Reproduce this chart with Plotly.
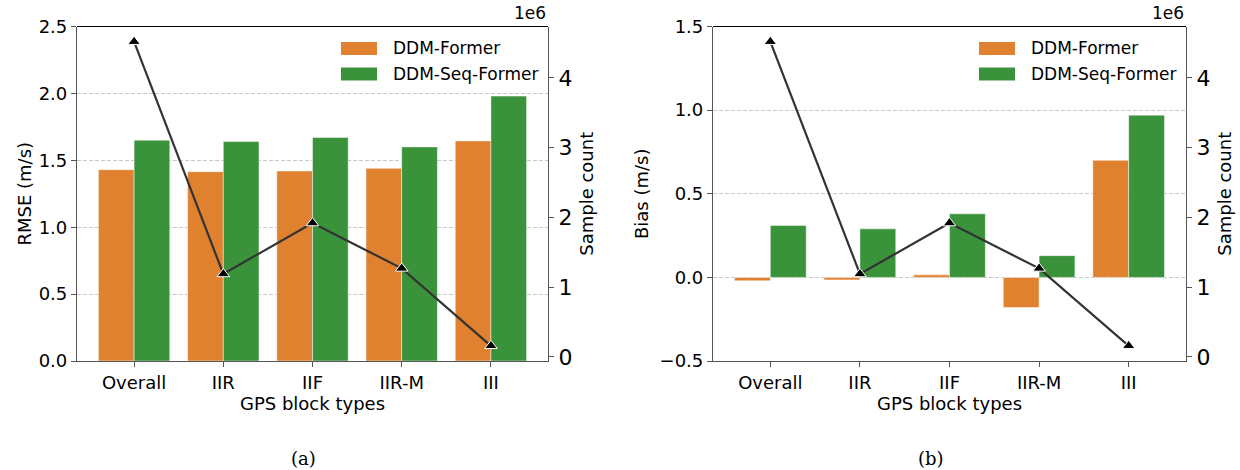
import plotly.graph_objects as go

# ---- data -------------------------------------------------------------
block_types = ["Overall", "IIR", "IIF", "IIR-M", "III"]
series_names = ["DDM-Former", "DDM-Seq-Former"]

rmse_former = [1.43, 1.415, 1.42, 1.44, 1.645]
rmse_seq_former = [1.65, 1.64, 1.67, 1.60, 1.98]

bias_former = [-0.02, -0.015, 0.015, -0.18, 0.70]
bias_seq_former = [0.31, 0.29, 0.38, 0.13, 0.97]

sample_count = [4.52e6, 1.19e6, 1.92e6, 1.27e6, 0.16e6]

count_tickvals = [0, 1e6, 2e6, 3e6, 4e6]
count_ticktext = ["0", "1", "2", "3", "4"]

# ---- styling ----------------------------------------------------------
ORANGE = "#E0812F"
GREEN = "#3A923A"
LINE = "#333333"
SPINE = "#555555"
FONT = "DejaVu Sans"
W, H = 1240, 470


def px(x):
    return x / W


def py(y):
    return 1 - y / H


left_dom = [px(77), px(548)]
right_dom = [px(713), px(1186)]
y_dom = [py(361), py(26.5)]

fig = go.Figure()

panels = [
    ("x", "y", "y3", rmse_former, rmse_seq_former),
    ("x2", "y2", "y4", bias_former, bias_seq_former),
]
for xa, ya, ya2, v1, v2 in panels:
    for name, vals, col in zip(series_names, [v1, v2], [ORANGE, GREEN]):
        fig.add_trace(go.Bar(
            x=block_types, y=vals, name=name, xaxis=xa, yaxis=ya,
            marker=dict(color=col, line=dict(color="rgba(255,255,255,0.6)", width=0.8)),
            showlegend=False,
        ))
    fig.add_trace(go.Scatter(
        x=block_types, y=sample_count, xaxis=xa, yaxis=ya2, mode="lines+markers",
        line=dict(color=LINE, width=2.2),
        marker=dict(symbol="triangle-up", size=11, color="black",
                    line=dict(color="white", width=1)),
        showlegend=False,
    ))

x_common = dict(
    type="category", range=[-0.64, 4.64], showline=True, linecolor=SPINE, linewidth=1.2,
    ticks="outside", ticklen=5, tickcolor=SPINE, showgrid=False, automargin=False,
    tickfont=dict(family=FONT, size=18, color="black"),
    title=dict(text="GPS block types", font=dict(family=FONT, size=18, color="black"), standoff=4),
)
y_common = dict(
    showline=True, linecolor=SPINE, linewidth=1.2, ticks="outside", ticklen=5,
    tickcolor=SPINE, showgrid=True, gridcolor="#c8c8c8", griddash="4px,2px", gridwidth=1,
    zeroline=False, tickformat=".1f", dtick=0.5, automargin=False,
    tickfont=dict(family=FONT, size=18, color="black"),
)
y_count = dict(
    side="right", showline=True, linecolor=SPINE, linewidth=1.2, ticks="outside",
    ticklen=5, tickcolor=SPINE, showgrid=False, zeroline=False, automargin=False,
    range=[-0.058e6, 4.738e6], tickvals=count_tickvals, ticktext=count_ticktext,
    tickfont=dict(family=FONT, size=22, color="black"),
    title=dict(text="Sample count", font=dict(family=FONT, size=18, color="black"), standoff=8),
)

fig.update_layout(
    width=W, height=H, margin=dict(l=0, r=0, t=0, b=0, autoexpand=False),
    paper_bgcolor="white", plot_bgcolor="white",
    barmode="group", bargap=0.2, bargroupgap=0,
    xaxis=dict(domain=left_dom, anchor="y", **x_common),
    xaxis2=dict(domain=right_dom, anchor="y2", **x_common),
    yaxis=dict(domain=y_dom, anchor="x", range=[0, 2.5],
               title=dict(text="RMSE (m/s)", font=dict(family=FONT, size=18, color="black"), standoff=2),
               **y_common),
    yaxis2=dict(domain=y_dom, anchor="x2", range=[-0.5, 1.5],
                title=dict(text="Bias (m/s)", font=dict(family=FONT, size=18, color="black"), standoff=6),
                **y_common),
    yaxis3=dict(overlaying="y", anchor="x", **y_count),
    yaxis4=dict(overlaying="y2", anchor="x2", **y_count),
)

shapes = []
annotations = []
for dom, cap, cap_x in [(left_dom, "(a)", 303), (right_dom, "(b)", 931)]:
    # top spine
    shapes.append(dict(type="line", xref="paper", yref="paper",
                       x0=dom[0], x1=dom[1], y0=y_dom[1], y1=y_dom[1],
                       line=dict(color="black", width=1.2)))
    # offset label of the count axis
    annotations.append(dict(text="1e6", xref="paper", yref="paper", x=dom[1], y=y_dom[1],
                            xanchor="right", yanchor="bottom", showarrow=False, yshift=1,
                            font=dict(family=FONT, size=17, color="black")))
    # subfigure caption
    annotations.append(dict(text=cap, xref="paper", yref="paper", x=px(cap_x), y=py(458),
                            xanchor="center", yanchor="middle", showarrow=False,
                            font=dict(family="DejaVu Serif", size=18, color="black")))
    # legend: wide colour patches with labels
    right_px = dom[1] * W
    patch_x0 = right_px - 207
    for name, col, row_y in zip(series_names, [ORANGE, GREEN], [48.5, 74]):
        shapes.append(dict(type="rect", xref="paper", yref="paper",
                           x0=px(patch_x0), x1=px(patch_x0 + 36),
                           y0=py(row_y + 6.5), y1=py(row_y - 6.5),
                           fillcolor=col, line=dict(width=0)))
        annotations.append(dict(text=name, xref="paper", yref="paper",
                                x=px(patch_x0 + 50), y=py(row_y),
                                xanchor="left", yanchor="middle", showarrow=False,
                                font=dict(family=FONT, size=17, color="black")))

fig.update_layout(shapes=shapes, annotations=annotations)

fig.write_html("out.html")
